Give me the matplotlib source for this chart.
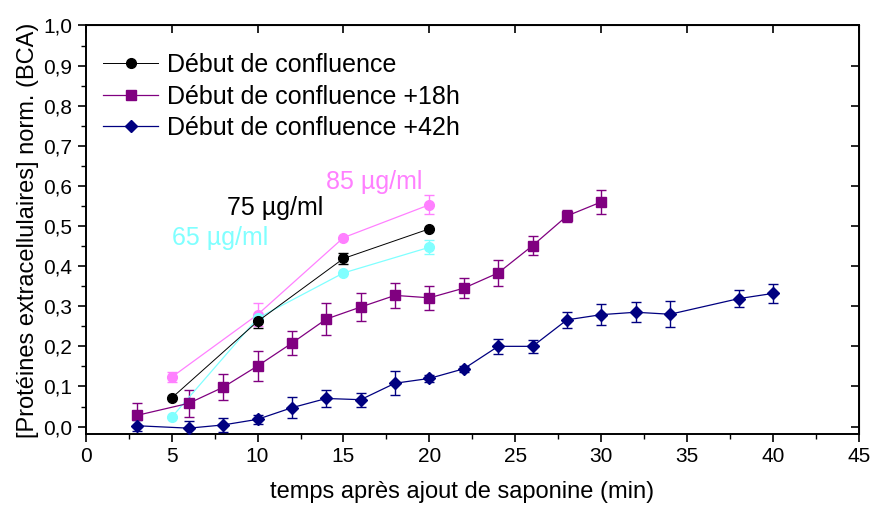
import numpy as np
import matplotlib
matplotlib.use("Agg")
import matplotlib.pyplot as plt
from matplotlib.ticker import MultipleLocator, FuncFormatter, NullLocator

# Début de confluence (3 concentrations de saponine)
t_conf = [5, 10, 15, 20]
y_75 = [0.071, 0.262, 0.419, 0.493]
e_75 = [0.0, 0.016, 0.013, 0.0]
y_85 = [0.123, 0.279, 0.471, 0.553]
e_85 = [0.012, 0.028, 0.0, 0.024]
y_65 = [0.023, 0.270, 0.383, 0.447]
e_65 = [0.0, 0.0, 0.0, 0.018]

# Début de confluence +18h
t_18 = [3, 6, 8, 10, 12, 14, 16, 18, 20, 22, 24, 26, 28, 30]
y_18 = [0.028, 0.058, 0.098, 0.151, 0.208, 0.268, 0.298, 0.327, 0.321,
        0.345, 0.383, 0.451, 0.525, 0.560]
e_18 = [0.030, 0.033, 0.032, 0.037, 0.030, 0.039, 0.036, 0.031, 0.030,
        0.025, 0.033, 0.023, 0.016, 0.029]

# Début de confluence +42h
t_42 = [3, 6, 8, 10, 12, 14, 16, 18, 20, 22, 24, 26, 28, 30, 32, 34, 38, 40]
y_42 = [0.002, -0.004, 0.004, 0.018, 0.047, 0.070, 0.067, 0.108, 0.120,
        0.144, 0.200, 0.200, 0.266, 0.279, 0.285, 0.280, 0.319, 0.332]
e_42 = [0.014, 0.017, 0.018, 0.011, 0.026, 0.020, 0.017, 0.030, 0.008,
        0.008, 0.018, 0.017, 0.020, 0.026, 0.025, 0.032, 0.022, 0.023]

plt.rcParams['font.family'] = ['Liberation Sans', 'DejaVu Sans']

fig = plt.figure(figsize=(8.74, 5.09), dpi=100)
ax = fig.add_axes([0.098, 0.147, 0.885, 0.803])

def series(x, y, e, color, marker, ms, lw=0.9):
    c = ax.errorbar(x, y, yerr=e, color=color, marker=marker, markersize=ms,
                    linewidth=lw, elinewidth=1.0, capsize=3.5, capthick=1.0,
                    ecolor=color, zorder=3)
    return c[0]

series(t_conf, y_85, e_85, '#FF80FF', 'o', 7)
series(t_conf, y_65, e_65, '#80FFFF', 'o', 7)
h1 = series(t_conf, y_75, e_75, 'black', 'o', 7, lw=0.7)
h2 = series(t_18, y_18, e_18, '#800080', 's', 6.5)
h3 = series(t_42, y_42, e_42, '#000080', 'D', 6.5)

ax.text(16.8, 0.61, '85 µg/ml', color='#FF80FF', fontsize=18, ha='center', va='center')
ax.text(11.0, 0.545, '75 µg/ml', color='black', fontsize=18, ha='center', va='center')
ax.text(7.8, 0.47, '65 µg/ml', color='#80FFFF', fontsize=18, ha='center', va='center')

ax.set_xlim(0, 45)
ax.set_ylim(-0.019, 1.0)
ax.xaxis.set_major_locator(MultipleLocator(5))
ax.xaxis.set_minor_locator(MultipleLocator(2.5))
ax.yaxis.set_major_locator(MultipleLocator(0.1))
ax.yaxis.set_minor_locator(MultipleLocator(0.05))
ax.yaxis.set_major_formatter(FuncFormatter(lambda v, p: f'{v:.1f}'.replace('.', ',')))
ax.tick_params(which='major', direction='out', length=6, width=1.2, labelsize=15)
ax.tick_params(which='minor', direction='out', length=3.5, width=1.0)
for s in ax.spines.values():
    s.set_linewidth(1.4)

top = ax.secondary_xaxis('top')
top.xaxis.set_major_locator(MultipleLocator(5))
top.xaxis.set_minor_locator(NullLocator())
top.tick_params(direction='in', length=6, width=1.2, labeltop=False)
right = ax.secondary_yaxis('right')
right.yaxis.set_major_locator(MultipleLocator(0.1))
right.yaxis.set_minor_locator(NullLocator())
right.tick_params(direction='in', length=6, width=1.2, labelright=False)

ax.set_xlabel('temps après ajout de saponine (min)', fontsize=17, labelpad=12)
ax.xaxis.set_label_coords(0.487, -0.115)
ax.set_ylabel('[Protéines extracellulaires] norm. (BCA)', fontsize=17, labelpad=3)

ax.legend([h1, h2, h3],
          ['Début de confluence', 'Début de confluence +18h', 'Début de confluence +42h'],
          loc='upper left', bbox_to_anchor=(0.0, 0.975), frameon=False, fontsize=18,
          handlelength=2.2, labelspacing=0.3, handletextpad=0.35, borderaxespad=0.3)

fig.savefig('out.png', dpi=100)
